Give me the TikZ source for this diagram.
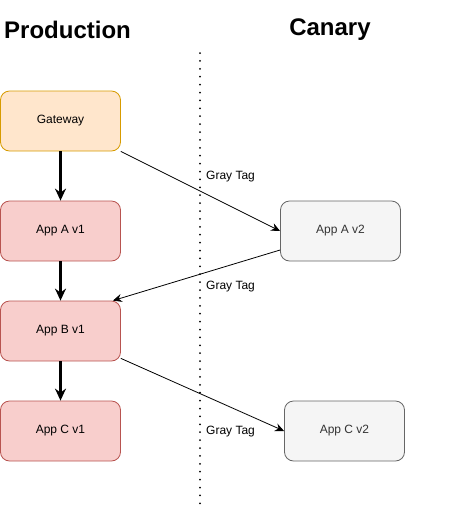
\documentclass[tikz,border=0pt]{standalone}
\usepackage{fontspec}
\setmainfont{Liberation Sans}
\usetikzlibrary{arrows.meta}

\definecolor{gwfill}{HTML}{FFE6CC}
\definecolor{gwline}{HTML}{D79B00}
\definecolor{prodfill}{HTML}{F8CECC}
\definecolor{prodline}{HTML}{B85450}
\definecolor{canfill}{HTML}{F5F5F5}
\definecolor{canline}{HTML}{666666}
\definecolor{cantext}{HTML}{333333}

\begin{document}
\begin{tikzpicture}[x=1pt,y=-1pt,
    app/.style={draw,rounded corners=9pt,minimum width=120pt,minimum height=60pt,
        line width=0.8pt,font=\fontsize{12}{14}\selectfont},
    prod/.style={app,fill=prodfill,draw=prodline},
    canary/.style={app,fill=canfill,draw=canline,text=cantext},
    flow/.style={line width=3pt,-{Stealth[length=12pt,width=11pt,inset=4pt]}},
    tag/.style={line width=0.8pt,-{Stealth[length=9pt,width=8pt,inset=3pt]}},
    tagtext/.style={anchor=west,inner sep=0pt,font=\fontsize{12}{14}\selectfont},
    title/.style={font=\fontsize{24}{28}\selectfont\bfseries}]
    \useasboundingbox (0,0) rectangle (475,512);
    \node[title] (prodtitle) at (67.5,30) {Production};
    \node[title] (cantitle) at (330,30) {Canary};
    \draw[line width=2pt,line cap=round,dash pattern=on 0pt off 7.9pt] (200,53) -- (200,510);
    \node[app,fill=gwfill,draw=gwline] (gw) at (60.5,121) {Gateway};
    \node[prod] (av1) at (60.5,231) {App A v1};
    \node[prod] (bv1) at (60.5,331) {App B v1};
    \node[prod] (cv1) at (60.5,431) {App C v1};
    \node[canary] (av2) at (340.5,231) {App A v2};
    \node[canary] (cv2) at (344.5,431) {App C v2};
    \draw[flow] (gw) -- (av1);
    \draw[flow] (av1) -- (bv1);
    \draw[flow] (bv1) -- (cv1);
    \draw[tag] (gw.south east) -- (av2.west);
    \draw[tag] ([yshift=-19pt]av2.west) -- ([xshift=-8pt]bv1.north east);
    \draw[tag] ([yshift=3pt]bv1.south east) -- (cv2.west);
    \node[tagtext] (tag1) at (206,176.5) {Gray Tag};
    \node[tagtext] (tag2) at (206,286.5) {Gray Tag};
    \node[tagtext] (tag3) at (206,431.5) {Gray Tag};
\end{tikzpicture}
\end{document}
